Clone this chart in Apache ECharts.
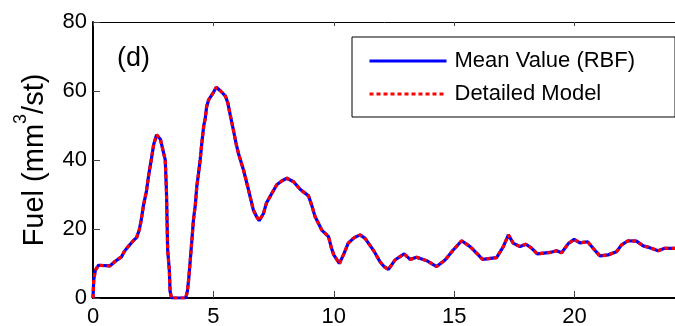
<!DOCTYPE html>
<html>
<head>
<meta charset="utf-8">
<script src="https://cdn.jsdelivr.net/npm/echarts@6/dist/echarts.min.js"></script>
<style>
  html, body { margin: 0; padding: 0; background: #fff; }
  #chart { width: 675px; height: 326px; }
</style>
</head>
<body>
<div id="chart"></div>
<script>
// Time axis (s) and injected fuel quantity (mm^3/stroke)
var timeS = [0, 0.03, 0.1, 0.23, 0.3, 0.7, 0.9, 1.19, 1.3, 1.46, 1.7, 1.81, 1.92, 2.0, 2.1, 2.22, 2.31, 2.43, 2.52, 2.64, 2.72, 2.8, 2.9, 3.0, 3.05, 3.1, 3.17, 3.2, 3.26, 3.85, 3.92, 3.97, 4.04, 4.12, 4.17, 4.25, 4.31, 4.38, 4.45, 4.52, 4.6, 4.66, 4.72, 4.8, 4.95, 5.12, 5.3, 5.5, 5.6, 5.7, 5.83, 5.95, 6.04, 6.25, 6.46, 6.66, 6.8, 6.9, 7.08, 7.2, 7.4, 7.63, 7.85, 8.05, 8.33, 8.6, 8.95, 9.1, 9.22, 9.5, 9.78, 9.9, 10.0, 10.23, 10.4, 10.6, 10.85, 11.09, 11.3, 11.64, 11.92, 12.1, 12.27, 12.54, 12.92, 13.17, 13.44, 13.86, 14.27, 14.62, 14.96, 15.31, 15.66, 15.93, 16.18, 16.76, 17.04, 17.25, 17.45, 17.73, 17.98, 18.22, 18.45, 18.98, 19.25, 19.46, 19.73, 19.98, 20.22, 20.54, 20.77, 21.05, 21.39, 21.74, 21.95, 22.22, 22.57, 22.85, 23.12, 23.47, 23.74, 24.16, 24.4];

var fuelRbf = [0, 5.2, 8.1, 9.5, 9.3, 9.3, 10.5, 12, 13.5, 14.9, 16.8, 17.5, 19.7, 22.5, 27, 31, 35.5, 40.5, 44.5, 47.3, 47, 46, 43, 40, 31, 14, 8, 2, 0, 0, 2, 5.2, 11, 18, 22.6, 27, 32.3, 36, 40, 45, 50, 52, 55.5, 57.4, 59, 61.1, 60, 58.5, 56.5, 53, 48.7, 44.5, 41.9, 37.1, 31.3, 25.5, 23.5, 22.4, 24.5, 27.5, 30, 32.8, 34, 34.7, 33.7, 31.5, 29.6, 26.5, 23.6, 19.7, 17.8, 14.5, 12.5, 10, 12.5, 15.9, 17.5, 18.3, 17.3, 13.9, 10.5, 9, 8.3, 11, 12.8, 11.2, 11.8, 10.8, 9.1, 11, 13.9, 16.6, 14.9, 13, 11.2, 11.7, 14.9, 18.3, 15.9, 14.9, 15.6, 14.4, 12.8, 13.2, 13.7, 13.1, 15.7, 17, 16, 16.3, 14.4, 12.2, 12.5, 13.4, 15.4, 16.6, 16.5, 15.1, 14.6, 13.7, 14.4, 14.4, 14.4];

var fuelDetailed = [0, 5.2, 8.1, 9.5, 9.3, 9.3, 10.5, 12, 13.5, 14.9, 16.8, 17.5, 19.7, 22.5, 27, 31, 35.5, 40.5, 44.5, 47.3, 47, 46, 43, 40, 31, 14, 8, 2, 0, 0, 2, 5.2, 11, 18, 22.6, 27, 32.3, 36, 40, 45, 50, 52, 55.5, 57.4, 59, 61.1, 60, 58.5, 56.5, 53, 48.7, 44.5, 41.9, 37.1, 31.3, 25.5, 23.5, 22.4, 24.5, 27.5, 30, 32.8, 34, 34.7, 33.7, 31.5, 29.6, 26.5, 23.6, 19.7, 17.8, 14.5, 12.5, 10, 12.5, 15.9, 17.5, 18.3, 17.3, 13.9, 10.5, 9, 8.3, 11, 12.8, 11.2, 11.8, 10.8, 9.1, 11, 13.9, 16.6, 14.9, 13, 11.2, 11.7, 14.9, 18.3, 15.9, 14.9, 15.6, 14.4, 12.8, 13.2, 13.7, 13.1, 15.7, 17, 16, 16.3, 14.4, 12.2, 12.5, 13.4, 15.4, 16.6, 16.5, 15.1, 14.6, 13.7, 14.4, 14.4, 14.4];

var seriesNames = ['Mean Value (RBF)', 'Detailed Model'];
var panelLabel = '(d)';
var xTicks = { min: 0, max: 25, interval: 5 };
var yTicks = { min: 0, max: 80, interval: 20 };

function pairs(xs, ys) {
  return xs.map(function (x, i) { return [x, ys[i]]; });
}

var FONT = '"Liberation Sans", Arial, sans-serif';

var chart = echarts.init(document.getElementById('chart'), null, { renderer: 'canvas' });

chart.setOption({
  animation: false,
  backgroundColor: '#fff',
  textStyle: { fontFamily: FONT, color: '#000' },
  title: {
    text: panelLabel,
    left: 117,
    top: 45,
    padding: 0,
    textStyle: { fontFamily: FONT, fontSize: 27, fontWeight: 'normal', color: '#000' }
  },
  // the plot box runs past the right edge of the canvas
  grid: { left: 93, top: 22, width: 602, height: 276, outerBoundsMode: 'none', containLabel: false },
  legend: {
    left: 352,
    top: 37,
    orient: 'vertical',
    backgroundColor: '#fff',
    borderColor: '#000',
    borderWidth: 1,
    padding: [13, 40, 12, 16],
    itemWidth: 77,
    itemHeight: 14,
    itemGap: 11,
    itemStyle: { opacity: 0 },
    lineStyle: { width: 3 },
    textStyle: { fontFamily: FONT, fontSize: 22, color: '#000', padding: [0, 0, 0, 3] },
    data: seriesNames
  },
  xAxis: [{
    type: 'value',
    position: 'bottom',
    min: xTicks.min, max: xTicks.max, interval: xTicks.interval,
    axisLine: { show: true, lineStyle: { color: '#000', width: 2 } },
    axisTick: { show: true, inside: true, length: 7, lineStyle: { color: '#444', width: 1 } },
    axisLabel: { fontFamily: FONT, fontSize: 22, color: '#000', margin: 8 },
    splitLine: { show: false }
  }, {
    type: 'value',
    position: 'top',
    min: xTicks.min, max: xTicks.max, interval: xTicks.interval,
    axisLine: { show: true, onZero: false, lineStyle: { color: '#000', width: 1 } },
    axisTick: { show: true, inside: true, length: 4, lineStyle: { color: '#444', width: 1 } },
    axisLabel: { show: false },
    splitLine: { show: false }
  }],
  yAxis: {
    type: 'value',
    min: yTicks.min, max: yTicks.max, interval: yTicks.interval,
    axisLine: { show: true, lineStyle: { color: '#000', width: 2 } },
    axisTick: { show: true, inside: true, length: 7, lineStyle: { color: '#444', width: 1 } },
    axisLabel: { fontFamily: FONT, fontSize: 22, color: '#000', margin: 6 },
    splitLine: { show: false },
    name: '{b|Fuel (mm}{s|3}{b|/st)}',
    nameLocation: 'middle',
    nameGap: 35,
    nameTextStyle: {
      rich: {
        b: { fontFamily: FONT, fontSize: 29, color: '#000', lineHeight: 46 },
        s: { fontFamily: FONT, fontSize: 18, color: '#000', verticalAlign: 'top', lineHeight: 18 }
      }
    }
  },
  series: [{
    name: seriesNames[0],
    type: 'line',
    xAxisIndex: 0,
    showSymbol: false,
    symbol: 'none',
    data: pairs(timeS, fuelRbf),
    lineStyle: { color: '#0000ff', width: 3.2, type: 'solid' },
    itemStyle: { color: '#0000ff' },
    z: 2
  }, {
    name: seriesNames[1],
    type: 'line',
    xAxisIndex: 0,
    showSymbol: false,
    symbol: 'none',
    data: pairs(timeS, fuelDetailed),
    lineStyle: { color: '#ff0000', width: 3.2, type: [4, 3] },
    itemStyle: { color: '#ff0000' },
    z: 3
  }]
});
</script>
</body>
</html>
